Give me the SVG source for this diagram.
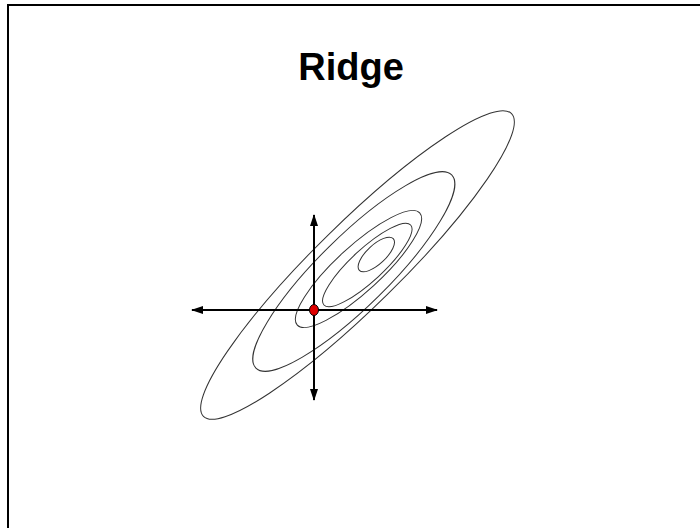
<svg xmlns="http://www.w3.org/2000/svg" width="700" height="528" viewBox="0 0 700 528">
<defs>
<style>
.frame{fill:none;stroke:#000;stroke-width:2}
.contour{fill:none;stroke:#333;stroke-width:1}
.axis{stroke:#000;stroke-width:2;fill:none}
.title{font-family:"Liberation Sans",Arial,sans-serif;font-weight:bold;font-size:38px;fill:#000}
</style>
<marker id="arrow" viewBox="0 0 12 8" refX="11" refY="4" markerWidth="12" markerHeight="8" markerUnits="userSpaceOnUse" orient="auto-start-reverse">
<path d="M0,0 L12,4 L0,8 Z" fill="#000"/>
</marker>
</defs>
<rect width="700" height="528" fill="#fff"/>
<path class="frame" d="M8,528 V5 H700"/>
<g id="title"><text class="title" x="351" y="80" text-anchor="middle">Ridge</text></g>
<g id="contours">
<ellipse class="contour" cx="357.5" cy="265" rx="216" ry="42" transform="rotate(-44.5 357.5 265)"/>
<ellipse class="contour" cx="353.8" cy="271.5" rx="137.5" ry="35" transform="rotate(-44.6 353.8 271.5)"/>
<ellipse class="contour" cx="358.5" cy="269" rx="83" ry="22.5" transform="rotate(-42.5 358.5 269)"/>
<ellipse class="contour" cx="367.3" cy="265" rx="59" ry="16" transform="rotate(-42.7 367.3 265)"/>
<ellipse class="contour" cx="376.3" cy="254.5" rx="23.2" ry="9.5" transform="rotate(-43 376.3 254.5)"/>
</g>
<g id="connectors">
<line class="axis" x1="192" y1="310" x2="437" y2="310" marker-start="url(#arrow)" marker-end="url(#arrow)"/>
<line class="axis" x1="314" y1="215" x2="314" y2="400" marker-start="url(#arrow)" marker-end="url(#arrow)"/>
</g>
<g id="origin"><ellipse cx="314" cy="310" rx="4.5" ry="5.5" fill="#e00000" stroke="#000" stroke-width="1"/></g>
</svg>
